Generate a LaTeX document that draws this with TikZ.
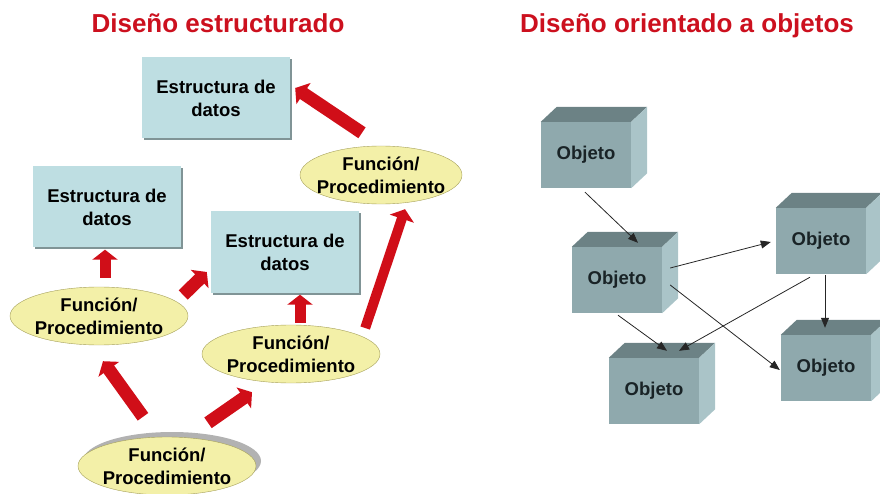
\documentclass[tikz,border=0pt]{standalone}
\usepackage{fontspec}
\setmainfont{Liberation Sans}
\usepackage{xcolor}
\usepackage{tikz}
\usetikzlibrary{shapes.geometric, arrows.meta, positioning, calc, shadows}
\definecolor{titlered}{RGB}{204, 16, 30}
\definecolor{boxblue}{RGB}{190, 222, 226}
\definecolor{boxshadow}{RGB}{128, 148, 150}
\definecolor{ellyellow}{RGB}{243, 240, 168}
\definecolor{ellborder}{RGB}{165, 160, 90}
\definecolor{arrowred}{RGB}{208, 14, 24}
\definecolor{cubefront}{RGB}{143, 169, 173}
\definecolor{cubetop}{RGB}{108, 130, 133}
\definecolor{cubeside}{RGB}{170, 196, 200}
\definecolor{objtext}{RGB}{25, 35, 38}

\begin{document}
\begin{tikzpicture}[x=1pt, y=-1pt,
    titletext/.style={
        anchor=base, text=titlered, font=\fontsize{26}{30}\selectfont\bfseries
    },
    databox/.style={
        rectangle, fill=boxblue, minimum width=148pt, minimum height=81pt,
        align=center, font=\fontsize{18.5}{23}\selectfont\bfseries,
        drop shadow={shadow xshift=2pt, shadow yshift=-2pt, fill=boxshadow, opacity=1}
    },
    funcell/.style={
        ellipse, fill=ellyellow, draw=ellborder, thin,
        inner xsep=-1.5pt, inner ysep=-1pt, minimum width=178pt, minimum height=58pt,
        align=center, font=\fontsize{18.5}{23}\selectfont\bfseries
    },
    objbox/.style={
        rectangle, fill=cubefront, minimum width=90pt, minimum height=66pt,
        text=objtext, font=\fontsize{18.5}{23}\selectfont\bfseries
    },
    redarrow/.style={-{Triangle[length=10pt, width=25pt]}, line width=13pt, color=arrowred},
    objarrow/.style={-{Triangle[length=10pt, width=8pt]}, line width=0.8pt, color=black!85}
]
    \useasboundingbox (0,0) rectangle (880,494);

    % titles
    \node [titletext] (t1) at (218,33) {Diseño estructurado};
    \node [titletext] (t2) at (687,33) {Diseño orientado a objetos};

    % structured design
    \node [databox] (box1) at (216,98)  {Estructura de\\datos};
    \node [databox] (box2) at (107,207) {Estructura de\\datos};
    \node [databox] (box3) at (285,252) {Estructura de\\datos};

    \node [funcell, minimum width=162pt, inner xsep=-7pt] (e1) at (381,175) {Función/\\Procedimiento};
    \node [funcell] (e2) at (99,316)  {Función/\\Procedimiento};
    \node [funcell] (e3) at (291,354) {Función/\\Procedimiento};
    \node [funcell, drop shadow={shadow xshift=5pt, shadow yshift=5pt, fill=black!30, opacity=1}] (e4) at (167,466) {Función/\\Procedimiento};

    \draw [redarrow] ([shift={(-19,-13)}]e1.north) -- ([shift={(5,-10)}]box1.east);
    \draw [redarrow, line width=11pt] ([shift={(6,-9)}]e2.north) -- ([shift={(-2,2)}]box2.south);
    \draw [redarrow] ([shift={(-5,-21)}]e2.east) -- ([shift={(-4,20)}]box3.west);
    \draw [redarrow, line width=11pt] ([shift={(9,-2)}]e3.north) -- ([shift={(15,2)}]box3.south);
    \draw [redarrow, line width=10pt] ([shift={(-15,-26)}]e3.east) -- ([shift={(24,5)}]e1.south);
    \draw [redarrow] ([shift={(-24,-20)}]e4.north) -- ([shift={(4,16)}]e2.south);
    \draw [redarrow] ([shift={(41,-14)}]e4.north) -- ([shift={(-39,9)}]e3.south);

    % object oriented design
    \node [objbox] (o1) at (586,155) {Objeto};
    \node [objbox] (o2) at (617,280) {Objeto};
    \node [objbox] (o3) at (821,241) {Objeto};
    \node [objbox] (o4) at (654,391) {Objeto};
    \node [objbox] (o5) at (826,368) {Objeto};

    \foreach \o in {o1,o2,o3,o4,o5} {
        \fill [cubetop] (\o.north west) -- ++(16,-15) -- ($(\o.north east)+(16,-15)$) -- (\o.north east) -- cycle;
        \fill [cubeside] (\o.north east) -- ++(16,-15) -- ($(\o.south east)+(16,-15)$) -- (\o.south east) -- cycle;
    }

    \draw [objarrow] ([shift={(-1,4)}]o1.south) -- ([shift={(21,-4)}]o2.north);
    \draw [objarrow] ([shift={(8,-12)}]o2.east) -- ([shift={(-5,1)}]o3.west);
    \draw [objarrow] ([shift={(4,1)}]o3.south) -- ([shift={(-1,-7)}]o5.north);
    \draw [objarrow] ([shift={(1,2)}]o2.south) -- ([shift={(13,-7)}]o4.north);
    \draw [objarrow] ([shift={(-11,3)}]o3.south) -- ([shift={(25,-7)}]o4.north);
    \draw [objarrow] ([shift={(8,5)}]o2.east) -- ([shift={(-1,2)}]o5.west);
\end{tikzpicture}
\end{document}
